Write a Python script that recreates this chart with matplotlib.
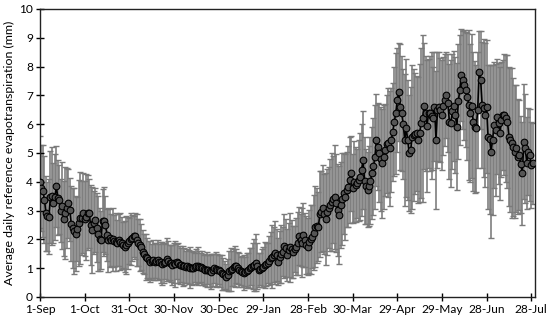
import numpy as np
import matplotlib
matplotlib.use("Agg")
import matplotlib.pyplot as plt

plt.rcParams['font.family'] = ['Lato', 'DejaVu Sans']

# daily mean reference ET (mm), 1-Sep .. 29-Jul
et_mean = [
    4.0, 3.78, 3.67, 3.38, 2.9, 2.8, 2.78, 3.47, 3.5, 3.26,
    3.47, 3.84, 3.44, 3.38, 3.0, 3.17, 2.71, 2.92, 3.09, 3.26,
    3.03, 2.55, 2.4, 2.28, 2.2, 2.36, 2.57, 2.73, 2.74, 2.92,
    2.72, 2.77, 2.93, 2.9, 2.5, 2.33, 2.58, 2.67, 2.4, 2.19,
    2.0, 1.98, 2.65, 2.62, 2.5, 2.15, 1.98, 2.04, 1.98, 2.0,
    1.95, 1.9, 1.86, 1.98, 1.92, 1.86, 1.8, 1.75, 1.8, 1.86,
    1.95, 2.0, 2.04, 2.1, 2.12, 1.98, 1.89, 1.8, 1.75, 1.57,
    1.49, 1.4, 1.34, 1.28, 1.23, 1.25, 1.28, 1.23, 1.26, 1.28,
    1.23, 1.2, 1.15, 1.17, 1.23, 1.31, 1.25, 1.19, 1.17, 1.11,
    1.19, 1.15, 1.23, 1.17, 1.11, 1.11, 1.08, 1.06, 1.05, 1.08,
    1.04, 1.02, 1.0, 1.0, 1.03, 1.06, 1.08, 1.05, 1.03, 1.0,
    0.96, 0.94, 0.95, 0.94, 0.9, 0.88, 0.94, 1.0, 0.96, 0.94,
    0.94, 0.9, 0.84, 0.8, 0.76, 0.68, 0.76, 0.91, 0.94, 0.98,
    1.03, 1.06, 1.08, 1.0, 0.94, 0.9, 0.88, 0.84, 0.88, 0.91,
    0.94, 1.0, 1.05, 1.08, 1.11, 1.19, 1.08, 0.94, 0.97, 1.0,
    1.05, 1.11, 1.14, 1.17, 1.26, 1.34, 1.4, 1.47, 1.54, 1.46,
    1.23, 1.38, 1.5, 1.57, 1.77, 1.69, 1.46, 1.63, 1.72, 1.66,
    1.57, 1.66, 1.75, 1.86, 2.12, 1.98, 1.89, 2.15, 1.98, 1.81,
    1.75, 1.92, 2.0, 2.09, 2.23, 2.44, 2.47, 2.44, 2.88, 2.96,
    3.08, 2.88, 2.7, 2.96, 3.1, 3.19, 3.3, 3.39, 3.46, 3.25,
    3.02, 2.85, 3.19, 3.39, 3.6, 3.48, 3.72, 3.83, 4.06, 4.29,
    3.77, 4.0, 3.89, 3.95, 4.05, 4.18, 4.41, 4.76, 4.04, 3.85,
    3.72, 3.85, 4.04, 4.3, 4.53, 4.87, 5.45, 5.22, 4.99, 4.78,
    4.64, 4.87, 5.1, 5.31, 5.36, 5.16, 5.45, 5.74, 6.09, 6.38,
    6.84, 7.13, 6.6, 6.38, 6.0, 5.45, 5.86, 5.45, 5.0, 5.1,
    5.57, 5.63, 5.66, 5.68, 5.45, 5.68, 6.03, 6.2, 6.63, 6.38,
    5.94, 6.38, 6.38, 6.3, 6.2, 6.61, 5.45, 6.49, 6.61, 6.49,
    6.32, 6.63, 6.84, 7.01, 6.72, 6.09, 6.03, 6.44, 6.63, 6.32,
    5.91, 6.8, 7.19, 7.71, 7.53, 7.36, 7.19, 6.96, 6.67, 6.38,
    6.63, 6.09, 5.91, 5.86, 6.49, 7.82, 7.53, 6.67, 6.55, 6.32,
    6.61, 5.54, 5.47, 5.05, 5.45, 5.97, 5.8, 6.26, 6.03, 5.68,
    6.15, 6.32, 6.32, 6.2, 6.09, 5.57, 5.45, 5.34, 5.22, 5.05,
    5.16, 4.87, 4.93, 4.6, 4.29, 5.39, 5.16, 4.64, 5.05, 4.93,
    4.58, 4.64,
]

# standard deviation (error bars)
et_sd = [
    1.6, 1.5, 1.6, 1.5, 1.3, 1.2, 1.3, 1.6, 1.7, 1.4,
    1.5, 1.4, 1.3, 1.2, 1.1, 1.5, 1.3, 1.6, 1.4, 1.2,
    1.1, 1.3, 1.4, 1.5, 1.3, 1.1, 1.5, 1.6, 1.3, 1.4,
    1.3, 1.5, 1.3, 1.2, 1.4, 1.5, 1.1, 1.1, 1.2, 1.3,
    1.1, 1.0, 1.1, 1.2, 1.0, 0.9, 1.1, 1.0, 0.9, 1.1,
    0.9, 1.0, 0.8, 0.9, 1.0, 0.9, 0.8, 0.9, 1.0, 0.9,
    0.8, 0.9, 0.8, 0.7, 0.8, 0.9, 0.8, 0.9, 0.8, 0.75,
    0.7, 0.8, 0.7, 0.65, 0.7, 0.6, 0.7, 0.65, 0.6, 0.7,
    0.6, 0.7, 0.75, 0.7, 0.6, 0.75, 0.7, 0.6, 0.65, 0.7,
    0.7, 0.8, 0.6, 0.7, 0.65, 0.6, 0.7, 0.65, 0.55, 0.6,
    0.6, 0.7, 0.6, 0.55, 0.5, 0.6, 0.65, 0.55, 0.5, 0.6,
    0.5, 0.55, 0.6, 0.5, 0.55, 0.6, 0.55, 0.5, 0.6, 0.55,
    0.5, 0.55, 0.6, 0.55, 0.5, 0.45, 0.55, 0.7, 0.75, 0.6,
    0.65, 0.7, 0.6, 0.55, 0.6, 0.5, 0.55, 0.6, 0.5, 0.6,
    0.6, 0.7, 0.65, 0.8, 0.9, 1.0, 0.8, 0.6, 0.55, 0.65,
    0.7, 0.8, 0.75, 0.7, 0.85, 0.9, 1.1, 0.95, 1.1, 0.9,
    0.8, 0.9, 1.0, 0.85, 1.1, 1.0, 0.9, 0.95, 1.2, 1.0,
    0.9, 0.8, 1.0, 1.1, 1.0, 0.9, 1.2, 1.1, 0.95, 1.0,
    1.0, 1.1, 1.2, 1.1, 1.3, 1.4, 1.3, 1.2, 1.5, 1.4,
    1.5, 1.4, 1.6, 1.5, 1.4, 1.6, 1.7, 1.5, 1.8, 1.7,
    1.6, 1.7, 1.5, 1.6, 1.4, 1.5, 1.3, 1.4, 1.5, 1.3,
    1.2, 1.4, 1.3, 1.2, 1.4, 1.5, 1.6, 1.7, 1.5, 1.3,
    1.3, 1.4, 1.5, 1.6, 1.7, 1.8, 1.6, 1.5, 1.7, 1.8,
    1.9, 1.8, 1.6, 1.7, 1.9, 2.0, 1.8, 1.7, 1.9, 2.1,
    1.8, 1.7, 2.2, 2.0, 1.9, 2.3, 2.4, 2.1, 2.0, 2.2,
    2.5, 2.3, 2.1, 2.0, 2.2, 2.4, 2.6, 2.9, 2.2, 2.0,
    2.3, 1.9, 2.0, 2.2, 1.8, 1.9, 2.4, 2.0, 1.9, 1.8,
    1.9, 1.7, 1.6, 1.5, 1.7, 2.0, 2.2, 2.0, 1.9, 2.0,
    2.2, 2.0, 1.9, 1.6, 1.7, 1.9, 2.0, 2.2, 2.6, 2.4,
    2.5, 2.4, 2.3, 2.2, 2.0, 1.4, 1.7, 2.2, 2.4, 2.5,
    2.3, 2.5, 2.6, 3.0, 2.6, 2.2, 2.3, 2.0, 2.1, 2.3,
    2.0, 1.9, 2.1, 2.2, 2.3, 2.4, 2.5, 2.6, 2.4, 2.3,
    2.2, 2.0, 1.9, 1.7, 1.8, 2.0, 1.9, 1.6, 1.5, 1.6,
    1.5, 1.4,
]

tick_labels = ['1-Sep', '1-Oct', '31-Oct', '30-Nov', '30-Dec', '29-Jan',
               '28-Feb', '30-Mar', '29-Apr', '29-May', '28-Jun', '28-Jul']
tick_days = [0, 30, 60, 90, 120, 150, 180, 210, 240, 270, 300, 330]

days = np.arange(len(et_mean))

fig = plt.figure(figsize=(5.5, 3.21), dpi=100)
ax = fig.add_axes([0.0727, 0.075, 0.9, 0.897])

ax.errorbar(days, et_mean, yerr=et_sd, fmt='none', ecolor='#7a7a7a',
            elinewidth=1.15, capsize=2.5, capthick=1.0, zorder=1)
ax.plot(days, et_mean, color='black', lw=1.2, marker='o', markersize=4.8,
        markerfacecolor='#555555', markeredgecolor='black',
        markeredgewidth=0.8, zorder=3)

ax.set_xlim(0, 332.5)
ax.set_ylim(0, 10)
ax.set_xticks(tick_days)
ax.set_xticklabels(tick_labels)
ax.set_yticks(range(0, 11))
ax.tick_params(axis='both', direction='inout', length=6, width=1,
               labelsize=8.6, color='black', pad=2)
for s in ax.spines.values():
    s.set_linewidth(1.0)
    s.set_color('#222222')
ax.set_ylabel('Average daily reference evapotranspiration (mm)', fontsize=8.9,
              labelpad=3)

fig.savefig('out.png', dpi=100)
